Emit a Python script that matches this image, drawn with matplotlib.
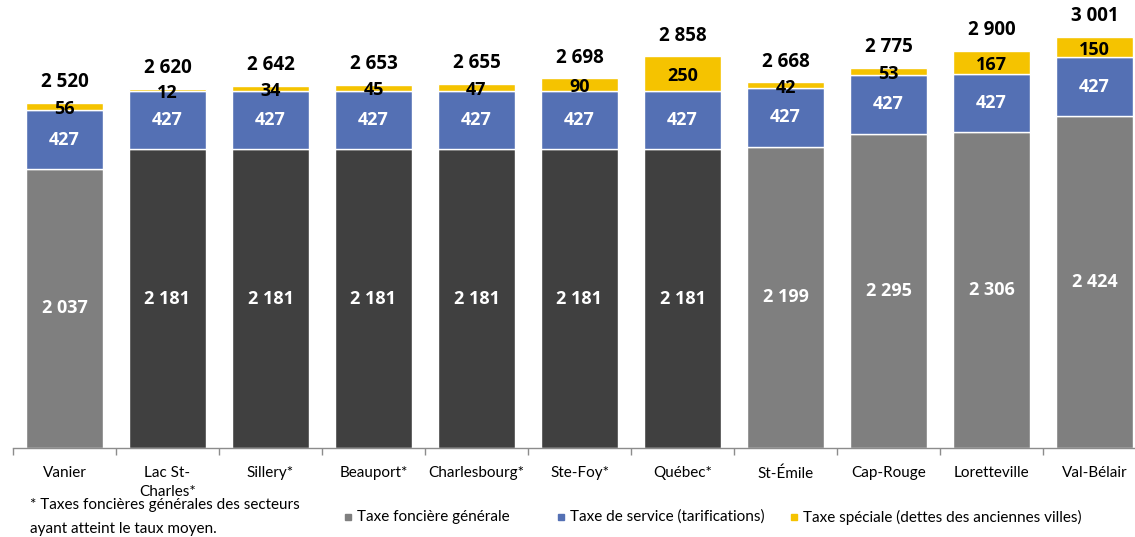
import matplotlib
matplotlib.use("Agg")
import matplotlib.pyplot as plt
from matplotlib.patches import Rectangle

plt.rcParams['font.family'] = ['Lato', 'DejaVu Sans']

categories = ["Vanier", "Lac St-\nCharles*", "Sillery*", "Beauport*", "Charlesbourg*",
              "Ste-Foy*", "Québec*", "St-Émile", "Cap-Rouge", "Loretteville", "Val-Bélair"]
fonciere = [2037, 2181, 2181, 2181, 2181, 2181, 2181, 2199, 2295, 2306, 2424]
service = [427, 427, 427, 427, 427, 427, 427, 427, 427, 427, 427]
speciale = [56, 12, 34, 45, 47, 90, 250, 42, 53, 167, 150]
series_names = ["Taxe foncière générale", "Taxe de service (tarifications)",
                "Taxe spéciale (dettes des anciennes villes)"]
footnote = "* Taxes foncières générales des secteurs\nayant atteint le taux moyen."

GRAY = "#7f7f7f"
DARK = "#404040"
BLUE = "#5470b4"
YELLOW = "#f5c300"
VAL_FONT = ['Open Sans', 'DejaVu Sans']

def fmt(v):
    return f"{v:,}".replace(",", " ")

W, H = 1135, 537
fig = plt.figure(figsize=(W / 100, H / 100), dpi=100)
ax = fig.add_axes([13 / W, (H - 448) / H, (1146 - 13) / W, 448 / H])

x = list(range(len(categories)))
gray_colors = [DARK if "*" in c else GRAY for c in categories]
bw = 0.74
ax.bar(x, fonciere, width=bw, color=gray_colors, edgecolor="white", linewidth=1)
ax.bar(x, service, width=bw, bottom=fonciere, color=BLUE, edgecolor="white", linewidth=1)
bottom3 = [a + b for a, b in zip(fonciere, service)]
ax.bar(x, speciale, width=bw, bottom=bottom3, color=YELLOW, edgecolor="white", linewidth=1)

ax.set_xlim(-0.5, len(categories) - 0.5)
ax.set_ylim(0, 3270)

for i in x:
    ax.text(i, fonciere[i] / 2, fmt(fonciere[i]), ha="center", va="center",
            color="white", fontsize=13, fontweight="bold", family=VAL_FONT)
    ax.text(i, fonciere[i] + service[i] / 2, fmt(service[i]), ha="center", va="center",
            color="white", fontsize=13, fontweight="bold", family=VAL_FONT)
    ax.text(i, bottom3[i] + speciale[i] / 2 - 20, fmt(speciale[i]), ha="center", va="center",
            color="black", fontsize=13, fontweight="bold", family=VAL_FONT)
    total = bottom3[i] + speciale[i]
    ax.annotate(fmt(total), (i, total), xytext=(0, 15), textcoords="offset points",
                ha="center", va="center", color="black", fontsize=13.5, fontweight="bold",
                family=VAL_FONT)

for s in ["top", "right", "left"]:
    ax.spines[s].set_visible(False)
ax.spines["bottom"].set_color("#8c8c8c")
ax.spines["bottom"].set_linewidth(1)
ax.set_yticks([])
ax.set_xticks(x)
ax.set_xticklabels(categories, fontsize=11, linespacing=1.45)
ax.tick_params(axis="x", length=0, pad=13)
ax.set_xticks([i - 0.5 for i in x] + [len(categories) - 0.5], minor=True)
ax.tick_params(axis="x", which="minor", length=5, color="#8c8c8c", width=1)

# footnote
fig.text(30 / W, 1 - 498 / H, footnote, ha="left", va="top", fontsize=11,
         linespacing=1.95)

# legend
leg = [(GRAY, 348, series_names[0]), (BLUE, 561, series_names[1]), (YELLOW, 794, series_names[2])]
for col, px, name in leg:
    sz = 6
    fig.add_artist(Rectangle((px / W - sz / 2 / W, 1 - 517 / H - sz / 2 / H), sz / W, sz / H,
                             transform=fig.transFigure, color=col))
    fig.text((px + 9) / W, 1 - 517 / H, name, ha="left", va="center", fontsize=11)

fig.savefig("out.png", dpi=100)
